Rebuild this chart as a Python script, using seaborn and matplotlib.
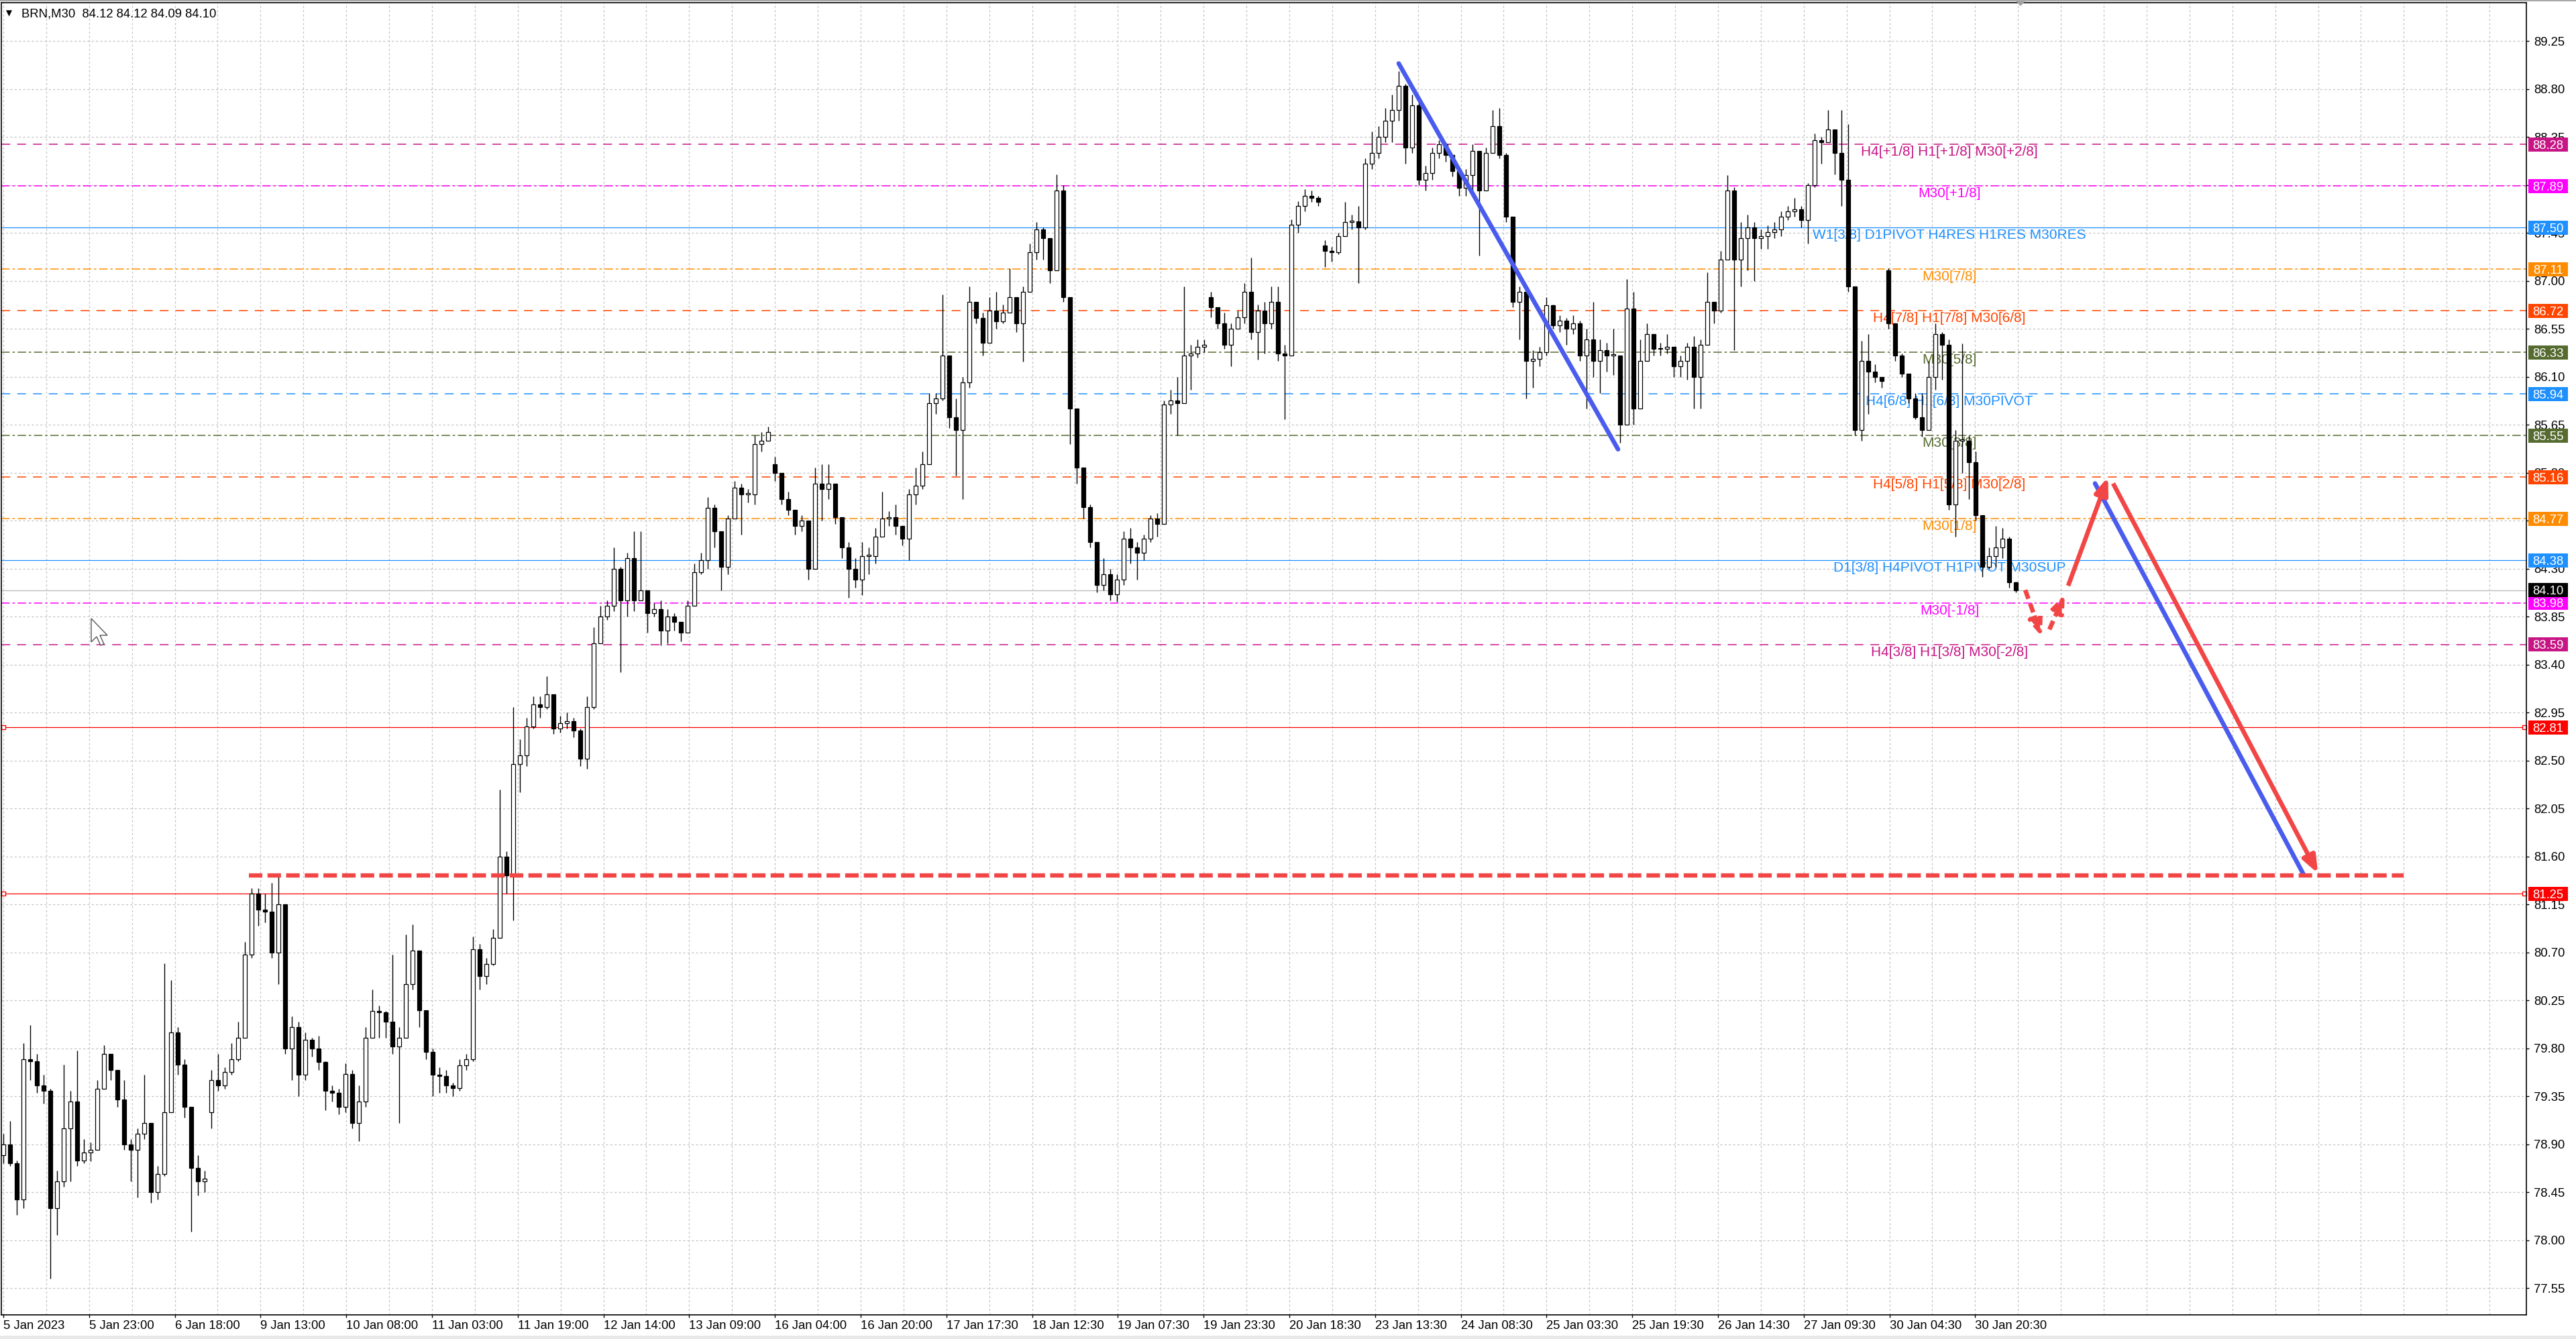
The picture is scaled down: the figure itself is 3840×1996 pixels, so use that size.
import numpy as np
import pandas as pd
import matplotlib
matplotlib.use("Agg")
import matplotlib.pyplot as plt
import matplotlib.transforms as mtransforms
from matplotlib.patches import Rectangle, Polygon, FancyArrowPatch
from matplotlib.lines import Line2D
import seaborn as sns

# ------------------------------------------------------------------ data
header_text = "BRN,M30  84.12 84.12 84.09 84.10"
first_open = 78.80

closes = [
    78.90, 78.72, 78.38, 79.70, 79.68, 79.45, 79.40, 78.30, 78.55, 79.05,
    79.30, 78.75, 78.82, 78.85, 79.42, 79.75, 79.60, 79.32, 78.90, 78.85,
    79.00, 79.10, 78.45, 78.62, 79.20, 79.95, 79.65, 79.25, 78.68, 78.55,
    78.58, 79.50, 79.45, 79.58, 79.70, 79.90, 80.68, 81.25, 81.10, 81.08,
    80.70, 81.15, 79.80, 80.00, 79.55, 79.88, 79.80, 79.67, 79.40, 79.38,
    79.25, 79.56, 79.10, 79.30, 79.90, 80.15, 80.14, 80.05, 79.82, 79.90,
    80.40, 80.72, 80.16, 79.77, 79.55, 79.54, 79.45, 79.43, 79.64, 79.70,
    80.73, 80.48, 80.59, 80.84, 81.60, 81.42, 82.47, 82.55, 82.82, 83.03,
    83.00, 83.12, 82.80, 82.85, 82.87, 82.78, 82.52, 83.00, 83.60, 83.85,
    83.95, 84.30, 84.00, 84.40, 84.00, 84.10, 83.88, 83.92, 83.72, 83.85,
    83.80, 83.70, 83.95, 84.27, 84.38, 84.87, 84.65, 84.32, 84.77, 85.06,
    85.00, 85.00, 85.47, 85.50, 85.58, 85.20, 84.95, 84.85, 84.70, 84.75,
    84.30, 85.10, 85.05, 85.10, 84.78, 84.50, 84.30, 84.20, 84.42, 84.42,
    84.60, 84.77, 84.78, 84.70, 84.58, 85.00, 85.08, 85.28, 85.85, 85.90,
    86.30, 85.72, 85.60, 86.05, 86.80, 86.65, 86.42, 86.72, 86.62, 86.70,
    86.85, 86.60, 86.90, 87.27, 87.48, 87.40, 87.10, 87.85, 86.85, 85.80,
    85.25, 84.88, 84.55, 84.15, 84.25, 84.06, 84.20, 84.58, 84.50, 84.45,
    84.58, 84.77, 84.72, 85.84, 85.88, 85.85, 86.30, 86.32, 86.38, 86.40,
    86.75, 86.60, 86.40, 86.55, 86.66, 86.90, 86.52, 86.72, 86.60, 86.80,
    86.32, 86.30, 87.53, 87.70, 87.80, 87.78, 87.74, 87.28, 87.27, 87.42,
    87.55, 87.56, 87.50, 88.10, 88.20, 88.35, 88.50, 88.60, 88.83, 88.25,
    88.65, 87.95, 88.01, 88.20, 88.28, 88.18, 88.03, 87.87, 87.99, 88.22,
    87.85, 88.20, 88.45, 88.18, 87.60, 86.80, 86.90, 86.25, 86.27, 86.33,
    86.77, 86.58, 86.63, 86.55, 86.60, 86.30, 86.45, 86.25, 86.35, 86.30,
    86.30, 85.65, 86.74, 85.80, 86.25, 86.50, 86.36, 86.36, 86.38, 86.20,
    86.25, 86.38, 86.10, 86.40, 86.80, 86.72, 87.20, 87.85, 87.20, 87.40,
    87.50, 87.40, 87.42, 87.46, 87.48, 87.60, 87.65, 87.67, 87.57, 87.90,
    88.32, 88.30, 88.42, 88.20, 87.95, 86.95, 85.60, 86.25, 86.15, 86.10,
    86.06, 86.60, 86.30, 86.13, 85.90, 85.72, 85.60, 86.10, 86.50, 86.40,
    84.90, 85.50, 85.50, 85.30, 84.80, 84.32, 84.42, 84.50, 84.58, 84.17,
    84.10,
]

highs = [
    79.00, 79.12, 78.75, 79.85, 80.02, 79.75, 79.55, 79.42, 78.65, 79.65,
    79.40, 79.78, 78.95, 78.92, 79.50, 79.83, 79.72, 79.60, 79.50, 78.95,
    79.05, 79.55, 79.10, 78.70, 80.60, 80.44, 80.00, 79.70, 79.20, 78.80,
    78.65, 79.60, 79.75, 79.62, 79.85, 80.05, 80.80, 81.30, 81.30, 81.25,
    81.35, 81.42, 81.15, 80.10, 80.05, 79.95, 79.90, 79.92, 79.68, 79.45,
    79.42, 79.66, 79.60, 79.45, 80.00, 80.35, 80.20, 80.15, 80.68, 80.00,
    80.87, 80.96, 80.72, 80.15, 79.80, 79.62, 79.60, 79.48, 79.70, 79.75,
    80.85, 80.78, 80.65, 80.92, 82.23, 81.65, 83.00, 82.70, 82.90, 83.10,
    83.10, 83.29, 83.00, 82.92, 82.95, 82.90, 82.80, 83.10, 83.75, 83.95,
    84.00, 84.50, 84.32, 84.45, 84.65, 84.65, 84.10, 83.98, 84.00, 83.92,
    83.88, 83.80, 84.00, 84.35, 84.45, 84.97, 84.90, 84.60, 84.80, 85.12,
    85.10, 85.05, 85.55, 85.58, 85.63, 85.35, 85.10, 85.02, 84.85, 84.80,
    84.75, 85.25, 85.28, 85.28, 85.05, 84.70, 84.55, 84.40, 84.55, 84.50,
    84.68, 85.02, 84.84, 84.90, 84.68, 85.05, 85.25, 85.40, 85.95, 85.95,
    86.87, 86.30, 85.90, 86.10, 86.95, 86.80, 86.70, 86.85, 86.90, 86.78,
    87.12, 86.80, 86.95, 87.35, 87.55, 87.50, 87.40, 88.00, 87.90, 86.85,
    85.80, 85.05, 84.90, 84.50, 84.40, 84.30, 84.25, 84.65, 84.68, 84.55,
    84.62, 84.80, 84.82, 85.88, 85.98, 86.10, 86.95, 86.40, 86.45, 86.45,
    86.90, 86.75, 86.70, 86.60, 86.72, 86.98, 87.22, 86.78, 86.80, 86.95,
    86.95, 86.40, 87.58, 87.75, 87.86, 87.85, 87.80, 87.38, 87.32, 87.45,
    87.74, 87.62, 87.70, 88.15, 88.40, 88.45, 88.62, 88.75, 88.97, 88.85,
    88.75, 88.70, 88.08, 88.25, 88.32, 88.30, 88.18, 88.03, 88.05, 88.28,
    88.20, 88.25, 88.60, 88.62, 88.20, 87.60, 86.95, 86.80, 86.35, 86.38,
    86.85, 86.78, 86.68, 86.65, 86.68, 86.63, 86.55, 86.80, 86.45, 86.42,
    86.55, 86.30, 87.02, 86.90, 86.45, 86.60, 86.50, 86.42, 86.50, 86.38,
    86.30, 86.42, 86.48, 86.45, 87.08, 86.78, 87.28, 87.99, 87.88, 87.55,
    87.62, 87.55, 87.48, 87.52, 87.55, 87.65, 87.70, 87.78, 87.70, 87.92,
    88.38, 88.35, 88.60, 88.40, 88.60, 88.47, 86.95, 86.44, 86.50, 86.22,
    86.10, 87.12, 86.55, 86.32, 86.10, 85.95, 85.95, 86.25, 86.60, 86.52,
    86.45, 85.60, 86.41, 85.55, 85.40, 84.80, 84.50, 84.70, 84.68, 84.60,
    84.18,
]

lows = [
    78.72, 78.70, 78.24, 78.30, 79.50, 79.38, 79.28, 77.64, 78.05, 78.50,
    78.55, 78.70, 78.72, 78.74, 78.85, 79.45, 79.50, 79.25, 78.85, 78.55,
    78.40, 78.95, 78.35, 78.38, 78.60, 79.70, 79.55, 79.15, 78.08, 78.42,
    78.45, 79.05, 79.40, 79.42, 79.55, 79.68, 79.95, 80.65, 80.95, 80.98,
    80.65, 80.40, 79.75, 79.50, 79.35, 79.50, 79.72, 79.60, 79.22, 79.30,
    79.18, 79.20, 79.05, 78.93, 79.25, 79.90, 79.90, 79.90, 79.75, 79.10,
    79.90, 80.35, 80.00, 79.70, 79.35, 79.38, 79.38, 79.35, 79.40, 79.60,
    79.68, 80.35, 80.40, 80.58, 80.84, 81.25, 81.00, 82.20, 82.45, 82.80,
    82.90, 82.98, 82.75, 82.76, 82.80, 82.72, 82.45, 82.42, 82.98, 83.60,
    83.82, 83.90, 83.33, 83.85, 83.90, 84.00, 83.70, 83.85, 83.58, 83.60,
    83.72, 83.62, 83.70, 83.95, 84.25, 84.30, 84.50, 84.10, 84.25, 84.80,
    84.62, 84.92, 84.90, 85.40, 85.50, 85.12, 84.90, 84.80, 84.62, 84.65,
    84.20, 84.60, 84.75, 84.95, 84.72, 84.40, 84.03, 84.12, 84.05, 84.25,
    84.35, 84.60, 84.70, 84.62, 84.52, 84.38, 84.90, 85.05, 85.50, 85.75,
    85.88, 85.62, 85.17, 84.95, 86.00, 86.60, 86.30, 86.50, 86.55, 86.60,
    86.70, 86.52, 86.24, 86.90, 87.20, 87.20, 86.98, 87.10, 86.80, 85.47,
    85.10, 84.77, 84.50, 84.08, 84.10, 84.00, 83.99, 84.15, 84.35, 84.20,
    84.38, 84.55, 84.60, 84.90, 85.75, 85.55, 85.85, 85.98, 86.28, 86.33,
    86.66, 86.55, 86.36, 86.20, 86.55, 86.60, 86.45, 86.26, 86.32, 86.55,
    86.25, 85.70, 86.30, 87.45, 87.65, 87.74, 87.70, 87.13, 87.18, 87.25,
    87.45, 87.48, 86.98, 87.48, 88.05, 88.15, 88.30, 88.30, 88.50, 88.10,
    88.20, 87.90, 87.85, 87.95, 88.15, 88.12, 87.98, 87.80, 87.80, 87.82,
    87.24, 87.85, 88.20, 88.15, 87.55, 86.75, 86.45, 85.90, 86.00, 86.20,
    86.30, 86.55, 86.52, 86.40, 86.50, 86.25, 85.80, 86.10, 85.95, 86.15,
    86.12, 85.48, 85.70, 85.65, 85.80, 86.30, 86.30, 86.30, 86.32, 86.10,
    86.10, 86.07, 85.80, 85.80, 86.40, 86.60, 86.70, 87.20, 86.35, 86.95,
    87.10, 87.00, 87.30, 87.30, 87.40, 87.42, 87.57, 87.60, 87.50, 87.35,
    87.88, 88.10, 88.32, 88.00, 87.70, 86.90, 85.55, 85.50, 85.75, 86.05,
    86.00, 86.55, 86.25, 86.10, 85.85, 85.70, 85.54, 85.75, 85.98, 86.07,
    84.85, 84.60, 85.20, 84.95, 84.75, 84.22, 84.30, 84.32, 84.40, 84.12,
    84.08,
]

# opens after session gaps (all other opens = previous close)
gap_opens = {31: 79.20, 115: 85.28, 180: 86.85, 197: 87.33, 281: 87.10}

x_tick_labels = [
    "5 Jan 2023", "5 Jan 23:00", "6 Jan 18:00", "9 Jan 13:00", "10 Jan 08:00",
    "11 Jan 03:00", "11 Jan 19:00", "12 Jan 14:00", "13 Jan 09:00", "16 Jan 04:00",
    "16 Jan 20:00", "17 Jan 17:30", "18 Jan 12:30", "19 Jan 07:30", "19 Jan 23:30",
    "20 Jan 18:30", "23 Jan 13:30", "24 Jan 08:30", "25 Jan 03:30", "25 Jan 19:30",
    "26 Jan 14:30", "27 Jan 09:30", "30 Jan 04:30", "30 Jan 20:30",
]

y_tick_values = [
    77.55, 78.00, 78.45, 78.90, 79.35, 79.80, 80.25, 80.70, 81.15, 81.60,
    82.05, 82.50, 82.95, 83.40, 83.85, 84.30, 84.75, 85.20, 85.65, 86.10,
    86.55, 87.00, 87.45, 87.90, 88.35, 88.80, 89.25,
]

level_prices = [88.28, 87.89, 87.50, 87.11, 86.72, 86.33, 85.94, 85.55,
                85.16, 84.77, 84.38, 83.98, 83.59, 82.81, 81.25]
level_texts = [
    "H4[+1/8] H1[+1/8] M30[+2/8]", "M30[+1/8]",
    "W1[3/8] D1PIVOT H4RES H1RES M30RES", "M30[7/8]",
    "H4[7/8] H1[7/8] M30[6/8]", "M30[5/8]", "H4[6/8] H1[6/8] M30PIVOT",
    "M30[3/8]", "H4[5/8] H1[5/8] M30[2/8]", "M30[1/8]",
    "D1[3/8] H4PIVOT H1PIVOT M30SUP", "M30[-1/8]", "H4[3/8] H1[3/8] M30[-2/8]",
    "", "",
]
current_price = 84.10

# drawn analysis objects (x in bar units, y in price)
trend_x, trend_y = [208.0, 240.7], [89.04, 85.42]
target_x, target_y = [36.6, 357.8], [81.42, 81.42]
blue_down_x, blue_down_y = [311.8, 342.9], [85.10, 81.43]
red_up_x, red_up_y = [307.8, 313.75], [84.14, 85.16]
red_down_x, red_down_y = [314.5, 345.05], [85.10, 81.44]
dash_down_x, dash_down_y = [301.4, 303.9], [84.10, 83.66]
dash_up_x, dash_up_y = [305.0, 307.3], [83.73, 84.06]

# ------------------------------------------------------------------ style
sns.set_theme(style="white")
plt.rcParams["font.family"] = ["Liberation Sans", "DejaVu Sans"]
plt.rcParams["lines.scale_dashes"] = False
plt.rcParams["axes.axisbelow"] = True

LEVEL_COLORS = ["#C71585", "#FF00FF", "#1E90FF", "#FF8C00", "#FF4500", "#556B2F",
                "#1E90FF", "#556B2F", "#FF4500", "#FF8C00", "#1E90FF", "#FF00FF",
                "#C71585", "#FF0000", "#FF0000"]
LEVEL_STYLES = ["dashed", "dashdot", "solid", "dashdot", "dashed", "dashdot",
                "dashed", "dashdot", "dashed", "dashdot", "solid", "dashdot",
                "dashed", "solid", "solid"]
DASHES = {"dashed": (0, (9.5, 7.5)), "dashdot": (0, (9.0, 3.0, 2.5, 3.0)), "solid": "-"}
RED = "#F24646"
BLUE = "#4A5CEE"
FS = 13.3

W, H, DPI = 3840, 1996, 100
fig = plt.figure(figsize=(W / DPI, H / DPI), dpi=DPI, facecolor="white")
AX_L, AX_R, AX_T, AX_B = 2, 3766, 4, 1960
ax = fig.add_axes([AX_L / W, 1 - AX_B / H, (AX_R - AX_L) / W, (AX_B - AX_T) / H])
ax.set_facecolor("white")

YMIN, YMAX = 77.30, 89.61
XMIN, XMAX = -0.3, 376.1
px_per_price = (AX_B - AX_T) / (YMAX - YMIN)
ax_w_px = AX_R - AX_L

# ------------------------------------------------------------------ candles
n = len(closes)
opens = [first_open] + closes[:-1]
for i, o in gap_opens.items():
    opens[i] = o
df = pd.DataFrame({"bar": np.arange(n), "open": opens, "high": highs,
                   "low": lows, "close": closes})
df["high"] = df[["open", "close", "high"]].max(axis=1)
df["low"] = df[["open", "close", "low"]].min(axis=1)
df["bull"] = df["close"] >= df["open"]
df["body_lo"] = df[["open", "close"]].min(axis=1)
df["body_h"] = (df["close"] - df["open"]).abs().clip(lower=0.012)

ax.vlines(df["bar"], df["low"], df["high"], color="black", lw=1.0, zorder=3)
bull = df[df["bull"]]
bear = df[~df["bull"]]
ax.bar(bull["bar"], bull["body_h"], bottom=bull["body_lo"], width=0.56,
       facecolor="white", edgecolor="black", linewidth=0.9, zorder=4)
ax.bar(bear["bar"], bear["body_h"], bottom=bear["body_lo"], width=0.56,
       facecolor="black", edgecolor="black", linewidth=0.9, zorder=4)

# ------------------------------------------------------------------ levels
for price, col, sty in zip(level_prices, level_colors if False else LEVEL_COLORS, LEVEL_STYLES):
    ax.axhline(price, color=col, lw=0.9 if sty == "solid" else 1.1,
               linestyle=DASHES[sty], zorder=1)
ax.axhline(current_price, color="#BDBDBD", lw=1.0, zorder=1)

LABEL_X = 290.1
for price, txt, col in zip(level_prices, level_texts, LEVEL_COLORS):
    if txt:
        ax.annotate(txt, xy=(LABEL_X, price), xytext=(0, -1.5), textcoords="offset points",
                    ha="center", va="top", fontsize=15, color=col, zorder=2)

for price in level_prices[-2:]:
    ax.plot([0.0, 375.8], [price, price], ls="none", marker="s", ms=4.2,
            mfc="white", mec="#FF0000", mew=1.0, zorder=2, clip_on=False)

# ------------------------------------------------------------------ analysis drawings
sns.lineplot(x=trend_x, y=trend_y, ax=ax, color=BLUE, lw=4.8,
             solid_capstyle="round", zorder=6)
sns.lineplot(x=blue_down_x, y=blue_down_y, ax=ax, color=BLUE, lw=4.8,
             solid_capstyle="round", zorder=6)
ax.plot(target_x, target_y, color=RED, lw=4.6, linestyle=(0, (14.5, 5.5)),
        solid_capstyle="butt", dash_capstyle="butt", zorder=6)

def arrow(xs, ys, dashed=False):
    kw = dict(arrowstyle="-|>,head_length=0.85,head_width=0.33", mutation_scale=18,
              color=RED, lw=4.8, shrinkA=0, shrinkB=0, zorder=7, joinstyle="round",
              capstyle="butt")
    if dashed:
        kw["linestyle"] = (0, (10, 5.5))
    ax.add_patch(FancyArrowPatch((xs[0], ys[0]), (xs[1], ys[1]), **kw))

arrow(red_up_x, red_up_y)
arrow(red_down_x, red_down_y)
arrow(dash_down_x, dash_down_y, dashed=True)
arrow(dash_up_x, dash_up_y, dashed=True)

# ------------------------------------------------------------------ axes
ax.set_xlim(XMIN, XMAX)
ax.set_ylim(YMIN, YMAX)
ax.set_xlabel("")
ax.set_ylabel("")

GRID_STEP = 6.39
ax.set_xticks(np.arange(len(x_tick_labels)) * 2 * GRID_STEP)
ax.set_xticklabels(x_tick_labels, ha="left")
ax.set_xticks(np.arange(0, XMAX, GRID_STEP), minor=True)
ax.yaxis.tick_right()
ax.set_yticks(y_tick_values)
ax.set_yticklabels([f"{v:.2f}" for v in y_tick_values])

grid_kw = dict(color="#C4C4C4", lw=0.9, linestyle=(0, (2.3, 2.3)))
ax.grid(which="both", axis="x", **grid_kw)
ax.grid(which="major", axis="y", **grid_kw)
ax.tick_params(axis="x", which="major", bottom=True, length=3, width=1, pad=3,
               labelsize=FS, colors="black", direction="out")
ax.tick_params(axis="x", which="minor", bottom=False, length=0)
ax.tick_params(axis="y", which="major", right=True, left=False, length=3, width=1,
               pad=5, labelsize=FS, colors="black", direction="out")
for s in ax.spines.values():
    s.set_visible(True)
    s.set_color("black")
    s.set_linewidth(1.2)

# price boxes on the right scale
trans = mtransforms.blended_transform_factory(ax.transAxes, ax.transData)
box_x0 = (3769 - AX_L) / ax_w_px
box_w = 59 / ax_w_px
box_h = 21 / px_per_price
box_items = list(zip(level_prices, LEVEL_COLORS)) + [(current_price, "#000000")]
for price, col in box_items:
    ax.add_patch(Rectangle((box_x0, price - box_h / 2), box_w, box_h, transform=trans,
                           facecolor=col, edgecolor="none", clip_on=False, zorder=10))
    ax.text(box_x0 + box_w / 2, price, f"{price:.2f}", transform=trans, ha="center",
            va="center_baseline", color="white", fontsize=FS, clip_on=False, zorder=11)

# ------------------------------------------------------------------ window chrome
fig.text(9 / W, 1 - 24 / H, "\u25bc", fontsize=8.5, family=["DejaVu Sans"],
         ha="left", va="baseline", color="black")
fig.text(32 / W, 1 - 26 / H, header_text, fontsize=FS, ha="left", va="baseline",
         color="black")
fig.add_artist(Line2D([0, 1], [1 - 0.8 / H, 1 - 0.8 / H], transform=fig.transFigure,
                      color="#A8A8A8", lw=1.5))
fig.add_artist(Rectangle((0, 0), 1, 5 / H, transform=fig.transFigure,
                         facecolor="#E8E8E8", edgecolor="none"))
fig.add_artist(Polygon([(3004 / W, 1 - 1 / H), (3020 / W, 1 - 1 / H), (3012 / W, 1 - 9 / H)],
                       closed=True, transform=fig.transFigure, facecolor="#A0A0A0",
                       edgecolor="none"))
cursor_px = [(136, 922), (136, 957), (144, 949), (150, 962), (155, 960), (149, 947), (160, 947)]
fig.add_artist(Polygon([(x / W, 1 - y / H) for x, y in cursor_px], closed=True,
                       transform=fig.transFigure, facecolor="white", edgecolor="#555555",
                       lw=1.0, zorder=20))

fig.savefig("out.png", dpi=DPI, facecolor="white")
